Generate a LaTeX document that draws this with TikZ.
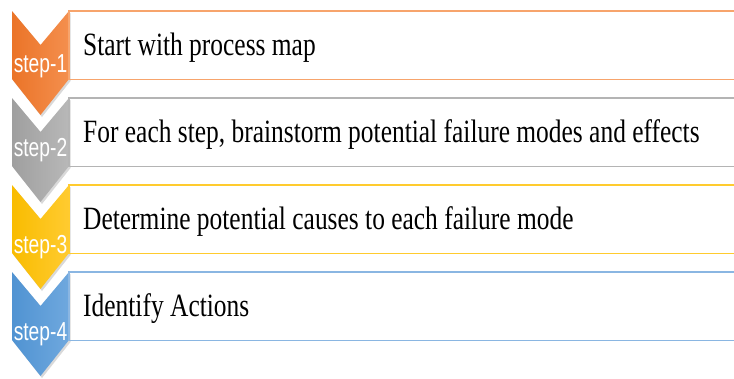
\documentclass[tikz,border=0pt]{standalone}
\usepackage{fontspec}
\setmainfont{Liberation Serif}
\newfontfamily\labelfont{Liberation Sans}
\usetikzlibrary{shadows}
\definecolor{orDk}{HTML}{EB7428}
\definecolor{orLt}{HTML}{F48F4E}
\definecolor{orLn}{HTML}{F7A46C}
\definecolor{grDk}{HTML}{9F9F9F}
\definecolor{grLt}{HTML}{B8B8B8}
\definecolor{grLn}{HTML}{B4B4B4}
\definecolor{ylDk}{HTML}{F9BC00}
\definecolor{ylLt}{HTML}{FFCB30}
\definecolor{ylLn}{HTML}{FFCB2E}
\definecolor{blDk}{HTML}{5093D2}
\definecolor{blLt}{HTML}{6FA8DE}
\definecolor{blLn}{HTML}{8AB6E2}
\begin{document}
\begin{tikzpicture}[x=1pt,y=-1pt,
 chev/.style={drop shadow={shadow xshift=1.5pt,shadow yshift=-2pt,opacity=.3}},
 stepbox/.style={minimum width=665pt,minimum height=68pt,inner sep=0pt,anchor=north west},
 steptext/.style={anchor=base west,inner sep=0pt,font=\fontsize{32.5}{34}\selectfont},
 steplabel/.style={anchor=base,inner sep=0pt,text=white,font=\labelfont\fontsize{26}{28}\selectfont}]
\useasboundingbox (0,0) rectangle (734,378);
\foreach \i/\t/\lb/\dk/\lt/\ln/\txt in {
 1/11/72/orDk/orLt/orLn/{Start with process map},
 2/98/156/grDk/grLt/grLn/{For each step, brainstorm potential failure modes and effects},
 3/185/253/ylDk/ylLt/ylLn/{Determine potential causes to each failure mode},
 4/272/340/blDk/blLt/blLn/{Identify Actions}}{
 % chevron
 \path[chev,left color=\dk,right color=\lt] (12,\t) -- (40.5,\t+34) -- (69,\t)
  -- (69,\t+68) -- (40.5,\t+104) -- (12,\t+68) -- cycle;
 \node[steplabel] (s\i) at (40.5,\lb) {\scalebox{.74}[1]{step-\i}};
 % box, open on the right
 \node[stepbox] (b\i) at (69,\t) {};
 \draw[\ln,line width=1.8pt] (b\i.north east) -- (b\i.north west)
  -- (b\i.south west) -- (b\i.south east);
 \node[steptext] (t\i) at (83,\t+44) {\scalebox{.783}[1]{\txt}};
}
\end{tikzpicture}
\end{document}
